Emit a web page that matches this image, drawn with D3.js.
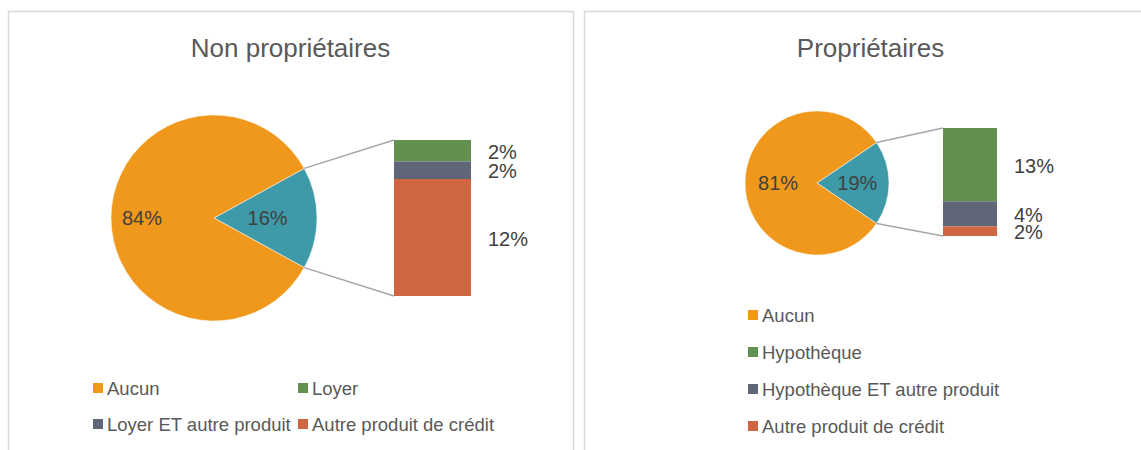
<!DOCTYPE html>
<html>
<head>
<meta charset="utf-8">
<script src="https://cdn.jsdelivr.net/npm/d3@7"></script>
<style>
  body { margin: 0; background: #fff; }
  svg { display: block; font-family: "Liberation Sans", Arial, sans-serif; }
</style>
</head>
<body>
<div id="chart"></div>
<script>
// --- data ---
var colors = ["#F0981B", "#62904E", "#5E6677", "#D06542"];
var otherColor = "#3E9AA8";

var nonPropTitle = "Non propriétaires";
var nonPropCategories = ["Aucun", "Loyer", "Loyer ET autre produit", "Autre produit de crédit"];
var nonPropValues = [84, 2.2, 1.8, 12.0];

var propTitle = "Propriétaires";
var propCategories = ["Aucun", "Hypothèque", "Hypothèque ET autre produit", "Autre produit de crédit"];
var propValues = [81, 12.9, 4.4, 1.7];

var fmt = function(v) { return Math.round(v) + "%"; };

var svg = d3.select("#chart").append("svg")
    .attr("width", 1141)
    .attr("height", 450);

/*
 * draw_panel
 * One pie-of-bar chart: main pie (first category + "other"), and a stacked bar
 * that breaks the "other" slice down.
 */
function draw_panel(title, categories, values, opt) {
    var g = svg.append("g");

    // panel border
    g.append("rect")
        .attr("x", opt.x + 0.5).attr("y", 11.5)
        .attr("width", opt.w).attr("height", 460)
        .attr("fill", "none")
        .attr("stroke", "#d9d9d9")
        .attr("stroke-width", 1.5);

    g.append("text")
        .attr("x", opt.x + opt.w / 2).attr("y", 57)
        .attr("text-anchor", "middle")
        .attr("fill", "#595959")
        .style("font-size", "26px")
        .text(title);

    // pie: first value vs the sum of the rest
    var rest = d3.sum(values.slice(1));
    var pieData = [{v: rest, c: otherColor}, {v: values[0], c: colors[0]}];
    var restAngle = rest / (rest + values[0]) * 2 * Math.PI;
    var start = Math.PI / 2 - restAngle / 2;

    var pie = d3.pie().value(function(d) { return d.v; }).sort(null)
        .startAngle(start).endAngle(start + 2 * Math.PI);
    var arcs = pie(pieData);
    var arc = d3.arc().innerRadius(0).outerRadius(opt.r);

    var pg = g.append("g").attr("transform", "translate(" + opt.cx + "," + opt.cy + ")");
    pg.selectAll("path").data(arcs).enter().append("path")
        .attr("d", arc)
        .attr("fill", function(d) { return d.data.c; })
        .attr("stroke", "#fff")
        .attr("stroke-width", 0.5);

    pg.selectAll("text").data(arcs).enter().append("text")
        .attr("transform", function(d, i) {
            var a = (d.startAngle + d.endAngle) / 2;
            var rr = opt.r * opt.labelR[i];
            return "translate(" + (Math.sin(a) * rr) + "," + (-Math.cos(a) * rr) + ")";
        })
        .attr("text-anchor", "middle")
        .attr("dy", "0.36em")
        .attr("fill", "#404040")
        .style("font-size", "20px")
        .text(function(d) { return fmt(d.data.v); });

    // stacked bar for the "other" slice
    var y = d3.scaleLinear().domain([0, rest]).range([opt.barTop, opt.barBottom]);
    var stack = [];
    var acc = 0;
    for (var i = 1; i < values.length; i++) {
        stack.push({v: values[i], y0: acc, y1: acc + values[i], c: colors[i]});
        acc += values[i];
    }

    // connector lines
    var a0 = arcs[0];
    var pTop = [opt.cx + Math.sin(a0.startAngle) * opt.r, opt.cy - Math.cos(a0.startAngle) * opt.r];
    var pBot = [opt.cx + Math.sin(a0.endAngle) * opt.r, opt.cy - Math.cos(a0.endAngle) * opt.r];
    g.append("line")
        .attr("x1", pTop[0]).attr("y1", pTop[1])
        .attr("x2", opt.barX).attr("y2", y(0))
        .attr("stroke", "#a6a6a6").attr("stroke-width", 1.5);
    g.append("line")
        .attr("x1", pBot[0]).attr("y1", pBot[1])
        .attr("x2", opt.barX).attr("y2", y(rest))
        .attr("stroke", "#a6a6a6").attr("stroke-width", 1.5);

    g.selectAll("rect.seg").data(stack).enter().append("rect")
        .attr("class", "seg")
        .attr("x", opt.barX)
        .attr("y", function(d) { return y(d.y0); })
        .attr("width", opt.barW)
        .attr("height", function(d) { return y(d.y1) - y(d.y0); })
        .attr("fill", function(d) { return d.c; });

    g.selectAll("text.seg").data(stack).enter().append("text")
        .attr("class", "seg")
        .attr("x", opt.barX + opt.barW + 17)
        .attr("y", function(d) { return (y(d.y0) + y(d.y1)) / 2 + 1; })
        .attr("dy", "0.36em")
        .attr("fill", "#404040")
        .style("font-size", "20px")
        .text(function(d) { return fmt(d.v); });

    // legend
    var lg = g.selectAll("g.legend").data(categories).enter().append("g")
        .attr("class", "legend")
        .attr("transform", function(d, i) {
            return "translate(" + opt.legendX[i] + "," + opt.legendY[i] + ")";
        });
    lg.append("rect")
        .attr("x", 0).attr("y", -5)
        .attr("width", 10).attr("height", 10)
        .attr("fill", function(d, i) { return colors[i]; });
    lg.append("text")
        .attr("x", 14)
        .attr("dy", "0.36em")
        .attr("fill", "#595959")
        .style("font-size", "18.5px")
        .text(function(d) { return d; });
}

draw_panel(nonPropTitle, nonPropCategories, nonPropValues, {
    x: 8, w: 565,
    cx: 214, cy: 218, r: 103, labelR: [0.52, 0.7],
    barX: 394, barW: 77, barTop: 140, barBottom: 296,
    legendX: [93, 298, 93, 298], legendY: [388, 388, 424, 424]
});

draw_panel(propTitle, propCategories, propValues, {
    x: 584, w: 573,
    cx: 817, cy: 183, r: 72, labelR: [0.56, 0.54],
    barX: 943, barW: 54, barTop: 128, barBottom: 236,
    legendX: [748, 748, 748, 748], legendY: [315, 352, 389, 426]
});
</script>
</body>
</html>
